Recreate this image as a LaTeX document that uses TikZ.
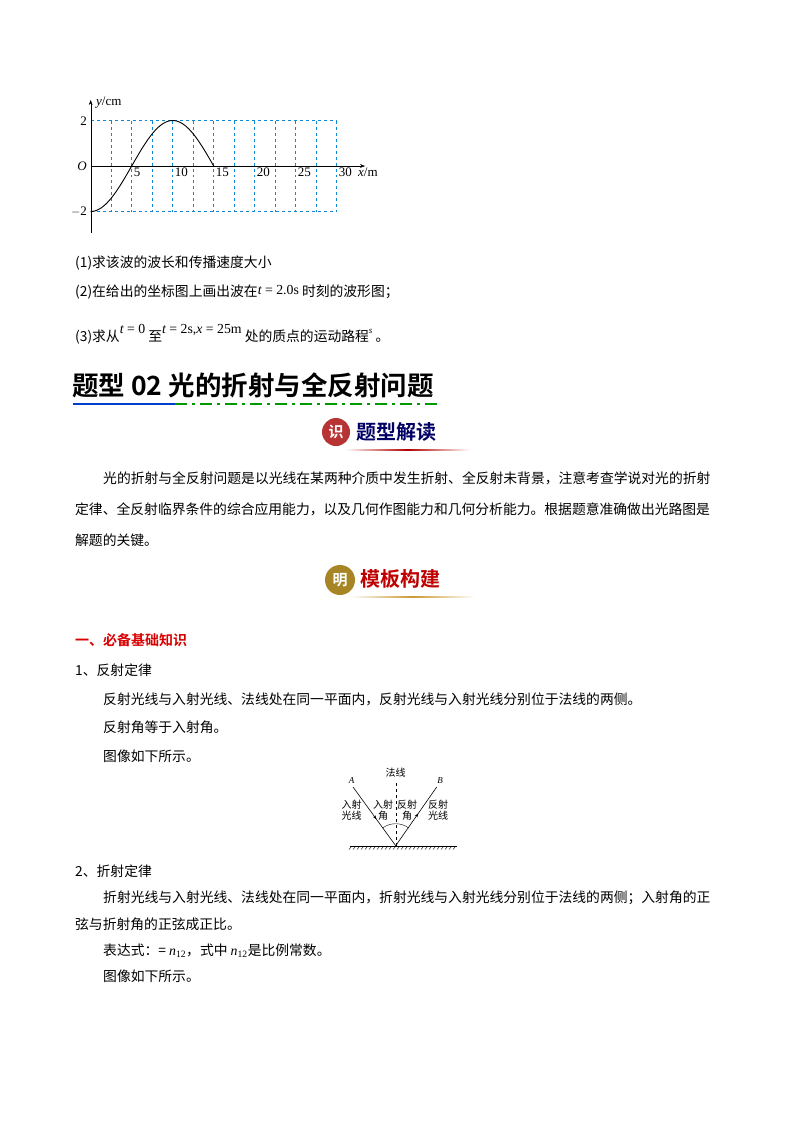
\documentclass[tikz,border=0pt]{standalone}
\usepackage{fontspec}
\setmainfont{Liberation Serif}
\newfontfamily\cjk{Noto Sans CJK SC}
\newfontfamily\cjkb{Noto Sans CJK SC Bold}
\usetikzlibrary{arrows.meta,decorations.markings}
\begin{document}
\begin{tikzpicture}[x=1bp,y=-1bp,
  body/.style={anchor=west,inner sep=0,font=\cjk\fontsize{13.8bp}{16bp}\selectfont},
  small/.style={inner sep=0,font=\cjk\fontsize{10bp}{11.5bp}\selectfont,align=center},
  grid/.style={cyan!70!blue,dashed,line width=0.6bp},
  lbl/.style={inner sep=0,font=\fontsize{13bp}{13bp}\selectfont}]
\useasboundingbox[fill=white] (0,0) rectangle (800,1132);
% graph
\foreach \i in {1,...,12} \draw[grid] ({90.7+\i*20.5},120.7) -- ({90.7+\i*20.5},211.7);
\draw[grid] (90.7,120.7) -- (336.7,120.7);
\draw[grid] (90.7,211.7) -- (336.7,211.7);
\draw[-{Stealth[length=5bp]}] (90.7,233) -- (90.7,100) coordinate (ytop);
\draw[-{Stealth[length=5bp]}] (90.7,166) -- (365,166) coordinate (xend);
\draw[line width=0.9bp,domain=0:15,samples=60,smooth] plot ({90.7+8.2*\x},{166+45.5*cos(18*\x)});
\node[lbl,anchor=west] (yl) at (96,103) {\textit{y}/cm};
\node[lbl,anchor=east] (l2) at (87,121) {2};
\node[lbl,anchor=east] (lo) at (87,166) {\textit{O}};
\node[lbl,anchor=east] (lm2) at (87,212) {$-$2};
\foreach \v/\xx in {5/131.7,10/172.7,15/213.7,20/254.7,25/295.7,30/336.7}
  \node[lbl,anchor=north west] at (\xx+2,168) {\v};
\node[lbl,anchor=north west] (xl) at (358,168) {\textit{x}/m};
% questions
\node[body] (q1) at (75,263) {(1)求该波的波长和传播速度大小};
\node[body] (q2) at (75,292) {(2)在给出的坐标图上画出波在\raisebox{2bp}{\rmfamily\itshape t\upshape{} = 2.0s} 时刻的波形图；};
\node[body] (q3) at (75,334) {(3)求从\raisebox{8bp}{\rmfamily\itshape t\upshape{} = 0} 至\raisebox{8bp}{\rmfamily\itshape t\upshape{} = 2s,\itshape x\upshape{} = 25m} 处的质点的运动路程\raisebox{8bp}{\rmfamily\itshape\small s} 。};
% heading
\node[anchor=west,inner sep=0,font=\cjkb\fontsize{26.5bp}{28bp}\selectfont] (h) at (72,385) {题型 02 光的折射与全反射问题};
\draw[blue!70!cyan!80!black,line width=2bp] (73,404) -- (175,404);
\draw[green!60!black,line width=2bp,dash pattern=on 12bp off 5bp on 3bp off 5bp] (175,404) -- (438,404);
% badge 1
\fill[red!65!black!80] (336,432) circle (14);
\node[inner sep=0,text=white,font=\cjkb\fontsize{15bp}{15bp}\selectfont] (b1) at (336,432) {识};
\node[anchor=west,inner sep=0,text=blue!40!black,font=\cjkb\fontsize{20bp}{20bp}\selectfont] (t1) at (356,432) {题型解读};
\shade[left color=white,right color=white,middle color=red!70!black] (345,449) rectangle (470,450.5);
% paragraph
\node[body] (p1) at (103,478) {光的折射与全反射问题是以光线在某两种介质中发生折射、全反射未背景，注意考查学说对光的折射};
\node[body] (p2) at (75,509) {定律、全反射临界条件的综合应用能力，以及几何作图能力和几何分析能力。根据题意准确做出光路图是};
\node[body] (p3) at (75,540) {解题的关键。};
% badge 2
\fill[brown!70!yellow!80!black] (340,580) circle (15);
\node[inner sep=0,text=white,font=\cjkb\fontsize{15bp}{15bp}\selectfont] (b2) at (340,580) {明};
\node[anchor=west,inner sep=0,text=red!75!black,font=\cjkb\fontsize{20bp}{20bp}\selectfont] (t2) at (360,579) {模板构建};
\shade[left color=white,right color=white,middle color=brown!80!yellow] (350,596) rectangle (475,597.5);
% section
\node[anchor=west,inner sep=0,text=red!85!black,font=\cjkb\fontsize{14bp}{16bp}\selectfont] (s1) at (75,640) {一、必备基础知识};
\node[body] (r0) at (75,670) {1、反射定律};
\node[body] (r1) at (103,699) {反射光线与入射光线、法线处在同一平面内，反射光线与入射光线分别位于法线的两侧。};
\node[body] (r2) at (103,727) {反射角等于入射角。};
\node[body] (r3) at (103,756) {图像如下所示。};
% reflection diagram
\coordinate (O) at (395.7,845.7);
\coordinate (Ar) at (353,787);
\coordinate (Br) at (436.7,787);
\coordinate (N) at (395.7,780);
\draw[line width=0.6bp] (350,846) -- (457,846);
\foreach \k in {0,...,26} \draw[line width=0.4bp] ({352+\k*4},846) -- ({349+\k*4},849.5);
\draw[dashed,line width=0.4bp] (O) -- (N);
\draw[line width=0.6bp,postaction={decorate},decoration={markings,mark=at position 0.55 with {\arrow{Stealth[length=4bp]}}}] (Ar) -- (O);
\draw[line width=0.6bp,postaction={decorate},decoration={markings,mark=at position 0.55 with {\arrow{Stealth[length=4bp]}}}] (O) -- (Br);
\draw[line width=0.4bp] (O) ++(-125.9:22) arc[start angle=-125.9,end angle=-90,radius=22];
\draw[line width=0.4bp] (O) ++(-90:22) arc[start angle=-90,end angle=-54.1,radius=22];
\node[inner sep=0,font=\rmfamily\itshape\fontsize{9bp}{9bp}\selectfont] (A) at (351.7,781) {A};
\node[inner sep=0,font=\rmfamily\itshape\fontsize{9bp}{9bp}\selectfont] (B) at (440,781) {B};
\node[small] (fx) at (395.7,773) {法线};
\node[small] (d1) at (351.7,810) {入射\\光线};
\node[small] (d2) at (383,810) {入射\\角};
\node[small] (d3) at (407,810) {反射\\角};
\node[small] (d4) at (438,810) {反射\\光线};
% refraction
\node[body] (f0) at (75,871) {2、折射定律};
\node[body] (f1) at (103,898) {折射光线与入射光线、法线处在同一平面内，折射光线与入射光线分别位于法线的两侧；入射角的正};
\node[body] (f2) at (75,924) {弦与折射角的正弦成正比。};
\node[body] (f3) at (103,951) {表达式：= {\rmfamily\itshape n}\textsubscript{\rmfamily 12}，式中 {\rmfamily\itshape n}\textsubscript{\rmfamily 12}是比例常数。};
\node[body] (f4) at (103,976) {图像如下所示。};
\end{tikzpicture}
\end{document}
